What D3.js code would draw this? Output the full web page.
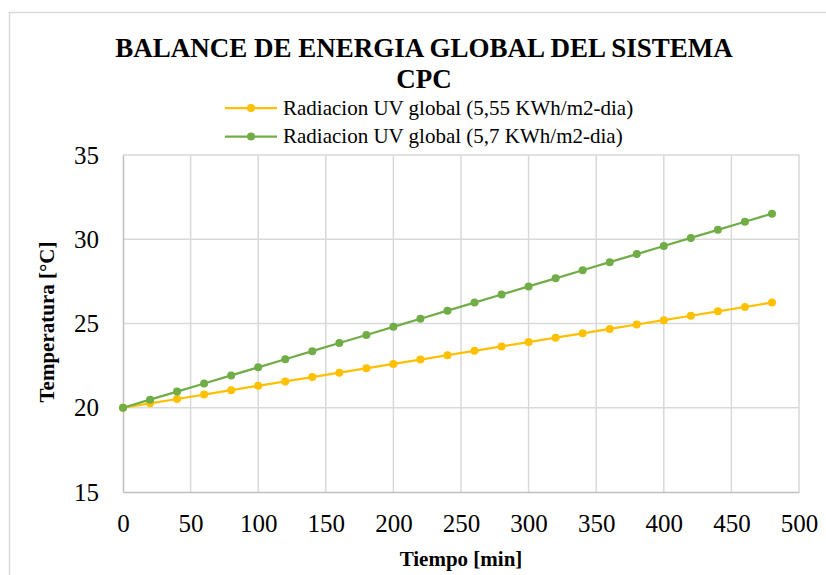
<!DOCTYPE html>
<html>
<head>
<meta charset="utf-8">
<script src="https://cdn.jsdelivr.net/npm/d3@7"></script>
<style>
  body { margin: 0; background: #fff; }
</style>
</head>
<body>
<div id="chart"></div>
<script>
// values, every 20 min
var tiempo = [0, 20, 40, 60, 80, 100, 120, 140, 160, 180, 200, 220, 240,
              260, 280, 300, 320, 340, 360, 380, 400, 420, 440, 460, 480];
var temp555 = [20.00, 20.26, 20.52, 20.78, 21.04, 21.30, 21.56, 21.82, 22.08, 22.34,
               22.60, 22.86, 23.12, 23.38, 23.64, 23.90, 24.16, 24.42, 24.68, 24.94,
               25.20, 25.46, 25.72, 25.98, 26.24];
var temp57 = [20.00, 20.48, 20.96, 21.44, 21.92, 22.40, 22.88, 23.36, 23.84, 24.32,
              24.80, 25.28, 25.76, 26.24, 26.72, 27.20, 27.68, 28.16, 28.64, 29.12,
              29.60, 30.08, 30.56, 31.04, 31.52];
var seriesNames = ['Radiacion UV global (5,55 KWh/m2-dia)', 'Radiacion UV global (5,7 KWh/m2-dia)'];
var seriesColors = ['#FFC000', '#70AD47'];
var xTicks = [0, 50, 100, 150, 200, 250, 300, 350, 400, 450, 500];
var yTicks = [15, 20, 25, 30, 35];

var serif = 'Liberation Serif';
var W = 826, H = 575;
var svg = d3.select('#chart').append('svg')
    .attr('width', W)
    .attr('height', H)
    .attr('font-family', serif)
    .style('display', 'block');

// chart area border (runs off the right and bottom of the picture)
svg.append('rect')
    .attr('x', 9.5).attr('y', 12.5)
    .attr('width', 840).attr('height', 600)
    .attr('fill', '#fff')
    .attr('stroke', '#d9d9d9')
    .attr('stroke-width', 1.5);

var x = d3.scaleLinear().domain([0, 500]).range([123, 799]);
var y = d3.scaleLinear().domain([15, 35]).range([492, 155]);

// grid
svg.append('g').selectAll('line')
    .data(xTicks.slice(1))
    .join('line')
    .attr('x1', d => x(d)).attr('x2', d => x(d))
    .attr('y1', y(35)).attr('y2', y(15))
    .attr('stroke', '#d9d9d9').attr('stroke-width', 1.5);
svg.append('g').selectAll('line')
    .data(yTicks.slice(1))
    .join('line')
    .attr('x1', x(0)).attr('x2', x(500))
    .attr('y1', d => y(d)).attr('y2', d => y(d))
    .attr('stroke', '#d9d9d9').attr('stroke-width', 1.5);

// axes
var xAxis = svg.append('g')
    .attr('transform', 'translate(0,' + y(15) + ')')
    .call(d3.axisBottom(x).tickValues(xTicks).tickSize(0).tickPadding(22));
var yAxis = svg.append('g')
    .attr('transform', 'translate(' + x(0) + ',0)')
    .call(d3.axisLeft(y).tickValues(yTicks).tickSize(0).tickPadding(24));
[xAxis, yAxis].forEach(function(g) {
    g.attr('font-family', serif).attr('font-size', 25);
    g.select('.domain').attr('stroke', '#bfbfbf').attr('stroke-width', 1.5);
    g.selectAll('text').attr('fill', '#000');
});

// series
var allSeries = [temp555, temp57];
var line = d3.line()
    .x((d, i) => x(tiempo[i]))
    .y(d => y(d));

allSeries.forEach(function(vals, k) {
    svg.append('path')
        .datum(vals)
        .attr('fill', 'none')
        .attr('stroke', seriesColors[k])
        .attr('stroke-width', 2.25)
        .attr('d', line);
    svg.append('g').selectAll('circle')
        .data(vals)
        .join('circle')
        .attr('cx', (d, i) => x(tiempo[i]))
        .attr('cy', d => y(d))
        .attr('r', 4)
        .attr('fill', seriesColors[k]);
});

// title
var title = svg.append('text')
    .attr('text-anchor', 'middle')
    .attr('font-family', serif)
    .attr('font-weight', 'bold')
    .attr('font-size', 27)
    .attr('fill', '#000');
title.append('tspan').attr('x', 424).attr('y', 57).text('BALANCE DE ENERGIA GLOBAL DEL SISTEMA');
title.append('tspan').attr('x', 424).attr('y', 88).text('CPC');

// legend
var legend = svg.append('g').selectAll('g')
    .data(seriesNames)
    .join('g')
    .attr('transform', (d, i) => 'translate(225,' + (108 + i * 28.5) + ')');
legend.append('line')
    .attr('x1', 0).attr('x2', 52)
    .attr('stroke', (d, i) => seriesColors[i])
    .attr('stroke-width', 2.25);
legend.append('circle')
    .attr('cx', 26).attr('r', 4)
    .attr('fill', (d, i) => seriesColors[i]);
legend.append('text')
    .attr('x', 58).attr('dy', '0.33em')
    .attr('font-family', serif)
    .attr('font-size', 21)
    .text(d => d);

// axis titles
svg.append('text')
    .attr('x', 461).attr('y', 566)
    .attr('text-anchor', 'middle')
    .attr('font-family', serif)
    .attr('font-weight', 'bold')
    .attr('font-size', 21)
    .text('Tiempo [min]');
svg.append('text')
    .attr('transform', 'translate(54,322) rotate(-90)')
    .attr('text-anchor', 'middle')
    .attr('font-family', serif)
    .attr('font-weight', 'bold')
    .attr('font-size', 21)
    .text('Temperatura [°C]');
</script>
</body>
</html>
